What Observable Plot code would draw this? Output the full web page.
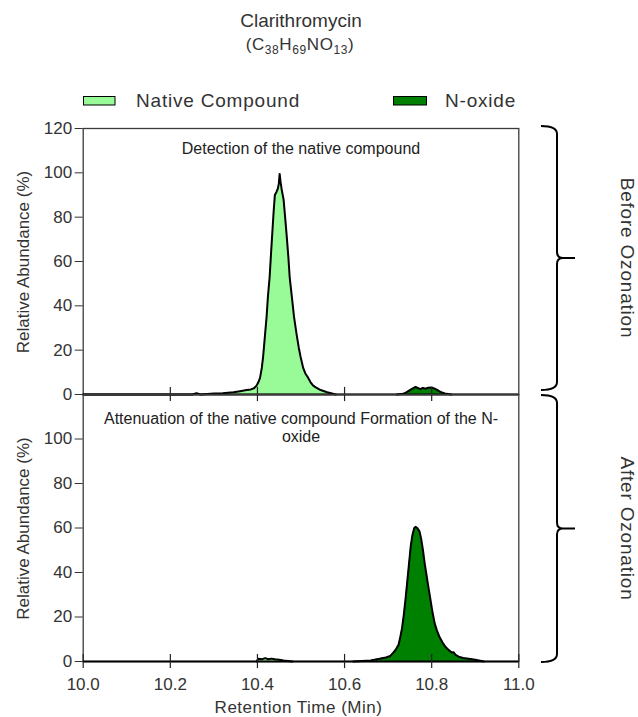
<!DOCTYPE html>
<html>
<head>
<meta charset="utf-8">
<script src="https://cdn.jsdelivr.net/npm/d3@7"></script>
<script src="https://cdn.jsdelivr.net/npm/@observablehq/plot@0.6"></script>
<style>
  body { margin: 0; background: #fff; font-family: "Liberation Sans", Arial, sans-serif; }
  #wrap { position: relative; width: 638px; height: 717px; overflow: hidden; }
  #wrap > svg { position: absolute; left: 0; }
</style>
</head>
<body>
<div id="wrap"></div>
<script>
// ---------- data (retention time in min, relative abundance in %) ----------
const title = "Clarithromycin";
const seriesNames = ["Native Compound", "N-oxide"];
const panelNames = ["Before Ozonation", "After Ozonation"];
const panelNotes = ["Detection of the native compound",
                    "Attenuation of the native compound Formation of the N-\noxide"];
const xTicks = [10.0, 10.2, 10.4, 10.6, 10.8, 11.0];
const yTicksTop = [0, 20, 40, 60, 80, 100, 120];
const yTicksBottom = [0, 20, 40, 60, 80, 100];

const beforeNative = [
  [10.00,0],[10.25,0],[10.26,0.6],[10.27,0],[10.30,0.4],[10.32,0.6],[10.345,1],[10.36,1.5],
  [10.375,2],[10.385,2.3],[10.392,2.8],[10.398,4],[10.402,5.5],[10.406,7.5],[10.410,12],
  [10.413,17],[10.417,26],[10.421,35],[10.424,44],[10.428,53],[10.431,63],[10.434,72.5],
  [10.437,82],[10.440,90],[10.444,91.5],[10.447,93],[10.449,95],[10.451,99.5],[10.453,96],
  [10.456,92],[10.460,88],[10.464,79],[10.467,72],[10.471,62],[10.474,53],[10.479,44],
  [10.484,35],[10.490,27],[10.495,21],[10.499,17],[10.505,12],[10.510,9.5],[10.515,8],
  [10.522,5.5],[10.528,4],[10.534,3.2],[10.545,2],[10.56,1],[10.58,0]
];
const beforeNoxide = [
  [10.72,0],[10.735,0.3],[10.742,1],[10.75,2],[10.757,2.8],[10.763,3.4],[10.768,3],
  [10.774,2.4],[10.780,3],[10.786,2.6],[10.792,3.1],[10.800,3.2],[10.808,2.5],[10.815,1.8],
  [10.822,1],[10.830,0.5],[10.845,0]
];
const afterNative = [
  [10.398,0],[10.402,1.2],[10.41,1],[10.418,1.5],[10.425,1],[10.432,1.3],[10.44,1],
  [10.45,0.8],[10.46,0.5],[10.48,0]
];
const afterNoxide = [
  [10.62,0],[10.66,0.5],[10.68,1.2],[10.695,1.8],[10.705,2.5],[10.712,4],[10.718,5.5],
  [10.724,7.5],[10.728,11],[10.732,15],[10.736,21],[10.740,28],[10.744,36],[10.748,44],
  [10.752,52],[10.756,57],[10.760,60],[10.763,60.5],[10.767,60],[10.772,58.5],[10.776,55],
  [10.780,50],[10.784,44],[10.788,39],[10.792,34],[10.797,28],[10.802,22],[10.807,17],
  [10.812,14],[10.818,11],[10.825,8.5],[10.832,6.5],[10.840,5],[10.846,4],[10.850,4.2],
  [10.855,3],[10.862,2.2],[10.872,1.6],[10.885,1.2],[10.90,0.8],[10.92,0]
];

// ---------- styling ----------
const nativeColor = "#98fb98";
const noxideColor = "#008000";
const textColor = "#333";
const font = "Liberation Sans, Arial, sans-serif";
const toObj = arr => arr.map(([t, v]) => ({t, v}));

const W = 638, mL = 82.7, mR = 119.7;

function panel({native, noxide, yTicks, note, noteDy, bottomAxis, innerTicks, height, marginBottom}) {
  const n = toObj(native), o = toObj(noxide);
  const marks = [
    Plot.areaY(n, {x: "t", y: "v", fill: nativeColor}),
    Plot.areaY(o, {x: "t", y: "v", fill: noxideColor}),
    Plot.frame({stroke: "#3a3a3a", strokeWidth: 1.3}),
    Plot.ruleY([0], {stroke: "#000", strokeWidth: 2.2}),
    Plot.lineY(n, {x: "t", y: "v", stroke: "#000", strokeWidth: 2, strokeLinejoin: "round"}),
    Plot.lineY(o, {x: "t", y: "v", stroke: "#000", strokeWidth: 2, strokeLinejoin: "round"}),
    Plot.ruleX(innerTicks, {x: d => d, y1: -3.2, y2: 3.2, stroke: "#222", strokeWidth: 1.2}),
    Plot.axisY(yTicks, {tickSize: 8, tickPadding: 3, fontSize: 17, fill: textColor, stroke: "#333", label: null}),
    Plot.text([note], {frameAnchor: "top", lineAnchor: "top", dy: noteDy, fontSize: 16,
                       lineHeight: 1.15, fill: "#222", text: d => d})
  ];
  if (bottomAxis) {
    marks.push(Plot.axisX(xTicks, {tickSize: 0, tickPadding: 16, fontSize: 17, fill: textColor,
                                   tickFormat: d => d.toFixed(1), label: null}));
  }
  return Plot.plot({
    width: W, height, marginTop: 10, marginBottom, marginLeft: mL, marginRight: mR,
    x: {domain: [10, 11], axis: bottomAxis ? undefined : null},
    y: {domain: [0, 120]},
    style: {fontFamily: font, background: "transparent", overflow: "visible"},
    marks
  });
}

const topPlot = panel({native: beforeNative, noxide: beforeNoxide, yTicks: yTicksTop,
  note: panelNotes[0], noteDy: 12, bottomAxis: false, innerTicks: xTicks.slice(1, -1),
  height: 10 + 266 + 8, marginBottom: 8});
const botPlot = panel({native: afterNative, noxide: afterNoxide, yTicks: yTicksBottom,
  note: panelNotes[1], noteDy: 16, bottomAxis: true, innerTicks: xTicks,
  height: 10 + 267 + 56, marginBottom: 56});

const wrap = document.getElementById("wrap");
topPlot.style.top = "118px";
botPlot.style.top = "384px";
wrap.appendChild(topPlot);
wrap.appendChild(botPlot);

// ---------- overlay: title, legend, axis titles, brackets ----------
const svg = d3.select(wrap).append("svg")
  .attr("width", W).attr("height", 717)
  .style("top", "0px").style("pointer-events", "none")
  .attr("font-family", font).attr("fill", textColor);

svg.append("text").attr("x", 301).attr("y", 26.5).attr("text-anchor", "middle")
  .attr("font-size", 19).text(title);

const sub = svg.append("text").attr("x", 300).attr("y", 50).attr("text-anchor", "middle")
  .attr("font-size", 17).attr("letter-spacing", 0.6);
const formula = [["(C", false], ["38", true], ["H", false], ["69", true], ["NO", false], ["13", true], [")", false]];
let shifted = false;
formula.forEach(([s, isSub]) => {
  const t = sub.append("tspan").text(s);
  if (isSub) t.attr("font-size", 12);
  if (isSub && !shifted) { t.attr("dy", 3.5); shifted = true; }
  else if (!isSub && shifted) { t.attr("dy", -3.5); shifted = false; }
});

// legend
const legendItems = [
  {name: seriesNames[0], color: nativeColor, rx: 83.5, rw: 31.5, tx: 136},
  {name: seriesNames[1], color: noxideColor, rx: 393.5, rw: 33, tx: 445}
];
legendItems.forEach(d => {
  svg.append("rect").attr("x", d.rx).attr("y", 96.5).attr("width", d.rw).attr("height", 8.5)
    .attr("fill", d.color).attr("stroke", "#000").attr("stroke-width", 1);
  svg.append("text").attr("x", d.tx).attr("y", 106.5).attr("font-size", 19)
    .attr("letter-spacing", 0.8).text(d.name);
});

// axis titles
const ys = [topPlot.scale("y"), botPlot.scale("y")];
const offs = [118, 384];
const mid = i => offs[i] + (ys[i].apply(0) + ys[i].apply(120)) / 2;
[0, 1].forEach(i => {
  svg.append("text").attr("transform", `translate(29,${mid(i) + 1}) rotate(-90)`)
    .attr("text-anchor", "middle").attr("font-size", 17).text("Relative Abundance (%)");
});
const xs = botPlot.scale("x");
svg.append("text").attr("x", (xs.apply(10) + xs.apply(11)) / 2 - 2).attr("y", 712.5)
  .attr("text-anchor", "middle").attr("font-size", 17).attr("letter-spacing", 0.5)
  .text("Retention Time (Min)");

// brackets + side labels
[0, 1].forEach(i => {
  const top = offs[i] + ys[i].apply(120) - (i === 0 ? 2 : -1);
  const bot = offs[i] + ys[i].apply(0) - (i === 0 ? 4 : -1);
  const m = (top + bot) / 2;
  const xv = 557, xl = 541, xt = 575;
  const p = d3.path();
  p.moveTo(xl, top); p.quadraticCurveTo(xv, top, xv, top + 8);
  p.lineTo(xv, m - 6); p.quadraticCurveTo(xv, m, xv + 6, m); p.lineTo(xt, m);
  p.moveTo(xv + 6, m); p.quadraticCurveTo(xv, m, xv, m + 6);
  p.lineTo(xv, bot - 8); p.quadraticCurveTo(xv, bot, xl, bot);
  svg.append("path").attr("d", p.toString()).attr("fill", "none")
    .attr("stroke", "#000").attr("stroke-width", 2);
  svg.append("text").attr("transform", `translate(621,${m}) rotate(90)`)
    .attr("text-anchor", "middle").attr("font-size", 19).attr("letter-spacing", 0.8)
    .text(panelNames[i]);
});
</script>
</body>
</html>
